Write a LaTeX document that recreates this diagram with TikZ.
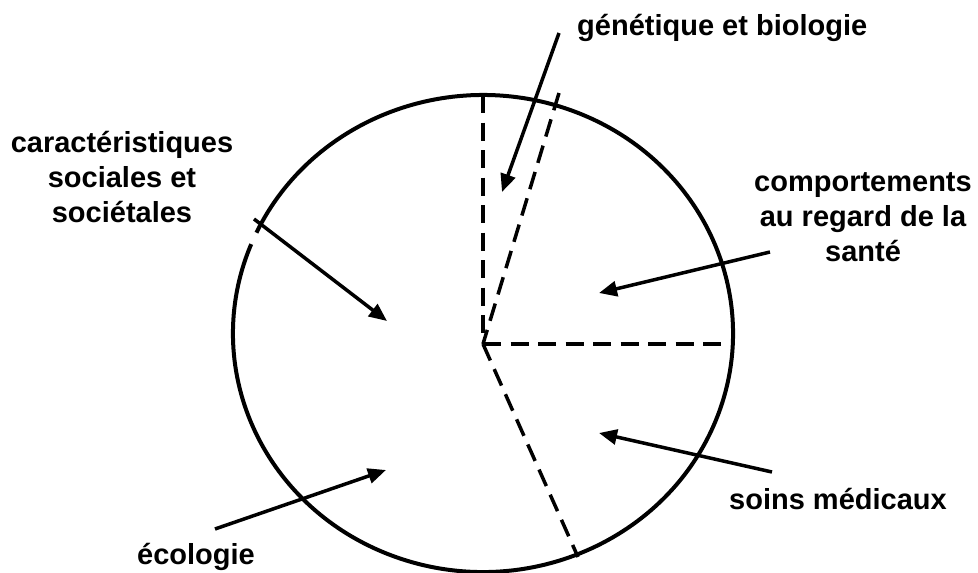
\documentclass[tikz,border=0pt]{standalone}
\usepackage{fontspec}
\setmainfont{Liberation Sans}
\usetikzlibrary{arrows.meta}
\begin{document}
\begin{tikzpicture}[x=1pt,y=-1pt,
  lbl/.style={font=\bfseries\fontsize{29}{35}\selectfont, inner sep=0pt, align=center},
  ring/.style={line width=4pt},
  divider/.style={line width=3.5pt, dash pattern=on 18pt off 9.5pt},
  pointer/.style={line width=3.5pt, -{Triangle[length=18pt,width=15pt]}}]
\useasboundingbox (0,0) rectangle (978,573);
\coordinate (c) at (483,333.5);
\coordinate (hub) at (483,344);
% circle with small gap at upper left
\draw[ring] (c) ++(158:250pt and 238.5pt) arc[start angle=158,end angle=515,x radius=250pt,y radius=238.5pt];
% dividers
\coordinate (d1) at (483,95);
\coordinate (d1e) at (483,342);
\coordinate (d2) at (559,93);
\coordinate (d3) at (730,344);
\coordinate (d4) at (578,557);
\draw[divider] (d1) -- (d1e);
\draw[divider] (d2) -- (hub);
\draw[divider] (hub) -- (d3);
\draw[divider] (hub) -- (d4);
% labels
\node[lbl, anchor=base west] (gen) at (577,35) {génétique et biologie};
\node[lbl] (soc) at (122,177) {caractéristiques\\sociales et\\sociétales};
\node[lbl] (comp) at (863,217) {comportements\\au regard de la\\santé};
\node[lbl, anchor=base west] (soins) at (729,509) {soins médicaux};
\node[lbl, anchor=base east] (eco) at (255,564) {écologie};
% arrows
\coordinate (a1) at (559,33);  \coordinate (t1) at (502,192);
\coordinate (a2) at (254,219); \coordinate (t2) at (387,321);
\coordinate (a3) at (770,252); \coordinate (t3) at (599,293);
\coordinate (a4) at (772,472); \coordinate (t4) at (599,433);
\coordinate (a5) at (215,529); \coordinate (t5) at (386,470);
\draw[pointer] (a1) -- (t1);
\draw[pointer] (a2) -- (t2);
\draw[pointer] (a3) -- (t3);
\draw[pointer] (a4) -- (t4);
\draw[pointer] (a5) -- (t5);
\end{tikzpicture}
\end{document}
